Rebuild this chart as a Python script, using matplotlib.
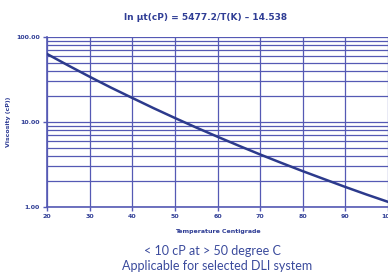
import matplotlib
matplotlib.use("Agg")
import matplotlib.pyplot as plt
from matplotlib.ticker import FixedLocator, LogLocator, FormatStrFormatter, NullFormatter

# temperature (C) and viscosity (cP)
temp = [20, 25, 30, 35, 40, 45, 50, 55, 60, 65, 70, 75, 80, 85, 90, 95, 100]
visc = [63.2, 46.2, 34.1, 25.4, 19.2, 14.55, 11.15, 8.61, 6.71, 5.26, 4.15,
        3.30, 2.64, 2.13, 1.72, 1.40, 1.15]
xticks = [20, 30, 40, 50, 60, 70, 80, 90, 100]
yticks = [1, 10, 100]

blue = "#2f3d95"
grid = "#5559b4"
narrow = ["Liberation Sans Narrow", "DejaVu Sans"]

fig = plt.figure(figsize=(3.88, 2.72), dpi=100)
ax = fig.add_axes([47/388, 1 - 207/272, 341/388, 170/272])

ax.plot(temp, visc, color="#2c3a8c", lw=1.8, zorder=3)
ax.set_yscale("log")
ax.set_xlim(20, 100)
ax.set_ylim(1, 100)

ax.xaxis.set_major_locator(FixedLocator(xticks))
ax.yaxis.set_major_locator(FixedLocator(yticks))
ax.yaxis.set_minor_locator(LogLocator(base=10, subs=range(2, 10)))
ax.yaxis.set_major_formatter(FormatStrFormatter("%.2f"))
ax.yaxis.set_minor_formatter(NullFormatter())

ax.grid(True, which="major", axis="both", color=grid, lw=0.9, snap=True)
ax.grid(True, which="minor", axis="y", color=grid, lw=0.9, snap=True)
ax.tick_params(which="major", length=3, width=1, color=grid, pad=2,
               labelsize=4.5, labelcolor=blue)
ax.tick_params(which="minor", length=0)
for lab in ax.get_xticklabels() + ax.get_yticklabels():
    lab.set_fontweight("bold")
    lab.set_family(narrow)

for s in ["top", "right"]:
    ax.spines[s].set_visible(False)
for s in ["left", "bottom"]:
    ax.spines[s].set_color(grid)
    ax.spines[s].set_linewidth(1.2)

fig.text(206/388, 1 - 17/272, "ln \u03bct(cP) = 5477.2/T(K) \u2013 14.538",
         ha="center", va="center", color=blue, fontsize=6.5,
         fontweight="bold", family=narrow)
fig.text(218/388, 1 - 232/272, "Temperature Centigrade", ha="center",
         va="center", color=blue, fontsize=4.5, fontweight="bold",
         family=narrow)
fig.text(9/388, 1 - 122/272, "Viscosity (cP))", ha="center", va="center",
         rotation=90, color=blue, fontsize=4.5, fontweight="bold",
         family=narrow)
fig.text(212/388, 1 - 251/272, "< 10 cP at > 50 degree C", ha="center",
         va="center", color="#3a4a9c", fontsize=9, family="Lato")
fig.text(217/388, 1 - 266/272, "Applicable for selected DLI system",
         ha="center", va="center", color="#3a4a9c", fontsize=9,
         family="Lato")

fig.savefig("out.png", dpi=100)
